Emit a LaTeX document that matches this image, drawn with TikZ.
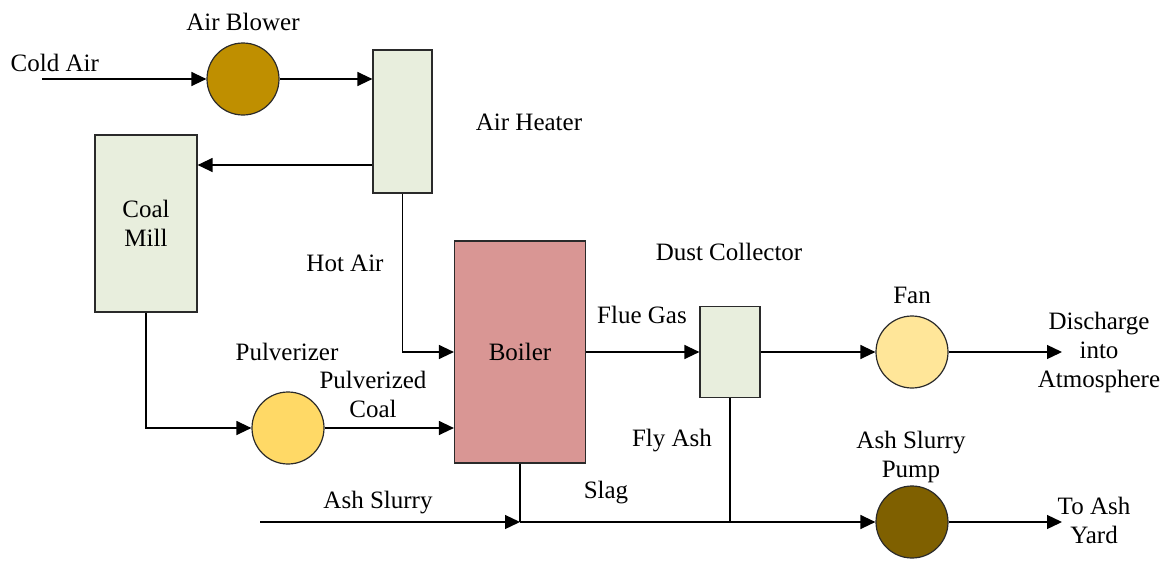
\documentclass[tikz,border=0pt]{standalone}
\usepackage{fontspec}
\setmainfont{Liberation Serif}
\usetikzlibrary{arrows.meta}
\definecolor{boxgreen}{HTML}{E8EEDD}
\definecolor{boilerred}{HTML}{D99694}
\definecolor{blowerc}{HTML}{BF8F00}
\definecolor{pulvc}{HTML}{FFD966}
\definecolor{fanc}{HTML}{FFE699}
\definecolor{pumpc}{HTML}{7F6000}
\definecolor{edge}{HTML}{2A2A2A}
\begin{document}
\begin{tikzpicture}[x=1pt,y=-1pt,line width=1.3pt,
  font=\fontsize{25}{29}\selectfont,
  arr/.style={-{Triangle[length=15pt,width=14pt]}},
  box/.style={draw=edge,line width=1.2pt,inner sep=0pt},
  unit/.style={circle,draw=edge,line width=1.2pt,inner sep=0pt,minimum size=72pt},
  lbl/.style={inner sep=0pt,align=center}]
\useasboundingbox (0,0) rectangle (1165,560);
% equipment
\node[unit,fill=blowerc] (blower) at (243,79) {};
\node[box,fill=boxgreen,minimum width=59pt,minimum height=143pt] (heater) at (402.5,121.5) {};
\node[box,fill=boxgreen,minimum width=102pt,minimum height=177pt,align=center] (mill) at (146,223.5) {Coal\\Mill};
\node[box,fill=boilerred,minimum width=131pt,minimum height=222pt] (boiler) at (520,352) {Boiler};
\node[unit,fill=pulvc] (pulv) at (288,428) {};
\node[box,fill=boxgreen,minimum width=60pt,minimum height=91pt] (dust) at (730,352) {};
\node[unit,fill=fanc] (fan) at (912,352) {};
\node[unit,fill=pumpc] (pump) at (912,522) {};
% labels
\node[lbl,anchor=west] (lcold) at (10,63) {Cold Air};
\node[lbl] (lblower) at (243,22) {Air Blower};
\node[lbl] (lheater) at (529,122) {Air Heater};
\node[lbl] (lhot) at (345,263) {Hot Air};
\node[lbl] (lpulv) at (287,352) {Pulverizer};
\node[lbl] (lpcoal) at (373,394) {Pulverized\\Coal};
\node[lbl] (lflue) at (642,315) {Flue Gas};
\node[lbl] (ldust) at (729,252) {Dust Collector};
\node[lbl] (lfan) at (912,295) {Fan};
\node[lbl] (ldis) at (1099,352) {Discharge\\into\\Atmosphere};
\node[lbl] (lfly) at (672,441) {Fly Ash};
\node[lbl] (lslag) at (606,493) {Slag};
\node[lbl] (lslurry) at (378,503) {Ash Slurry};
\node[lbl] (lpump) at (911,457) {Ash Slurry\\Pump};
\node[lbl] (lyard) at (1094,520) {To Ash\\Yard};
% free ends and junctions
\coordinate (cin) at (42,79);
\coordinate (y165) at (0,165);
\coordinate (asin) at (260,522);
\coordinate (j1) at (520,522);
\coordinate (dout) at (1062,352);
\coordinate (yout) at (1062,522);
% connectors
\draw[arr] (cin) -- (blower.west);
\draw[arr] (blower.east) -- (blower.east -| heater.west);
\draw[arr] (heater.west |- y165) -- (mill.east |- y165);
\draw[arr] (heater.south) |- (boiler.west);
\draw[arr] (mill.south) |- (pulv.west);
\draw[arr] (pulv.east) -- (pulv.east -| boiler.west);
\draw[arr] (boiler.east) -- (dust.west);
\draw[arr] (dust.east) -- (fan.west);
\draw[arr] (fan.east) -- (dout);
\draw[arr] (asin) -- (j1);
\draw (boiler.south) -- (j1);
\draw[arr] (j1) -- (pump.west);
\draw (dust.south) -- (dust.south |- pump.west);
\draw[arr] (pump.east) -- (yout);
\end{tikzpicture}
\end{document}
